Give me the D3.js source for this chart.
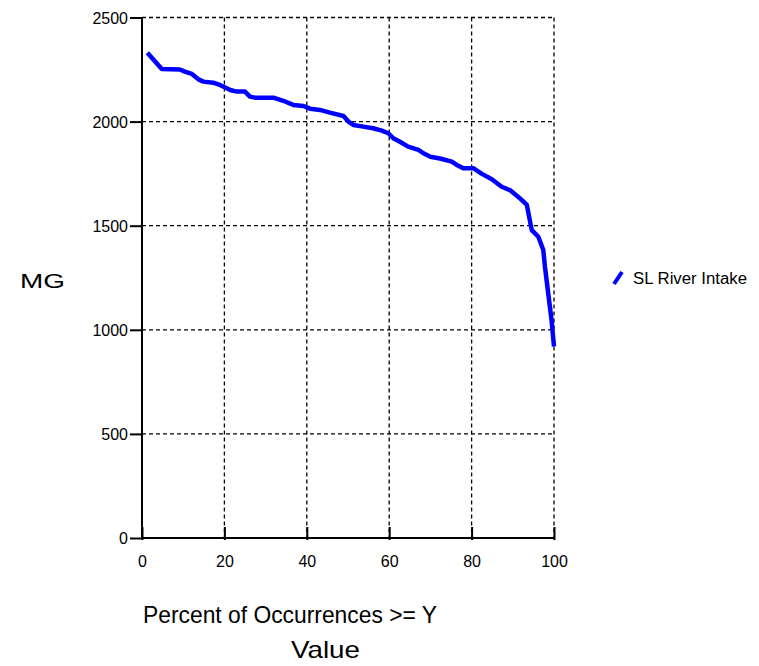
<!DOCTYPE html>
<html>
<head>
<meta charset="utf-8">
<script src="https://cdn.jsdelivr.net/npm/d3@7"></script>
<style>
  body { margin: 0; background: #fff; }
  svg { display: block; font-family: Arial, "Liberation Sans", sans-serif; }
</style>
</head>
<body>
<svg id="chart" width="759" height="666"></svg>
<script>
// ---- data ----
const seriesName = "SL River Intake";
const pct = [1.3, 4.8, 9.2, 10.4, 12.1, 13.7, 14.9, 17.3, 18.9, 20.6, 21.4, 23, 25, 26.2, 27.4, 31.9, 34.3, 36.7, 39.2, 40.8, 43.2, 45.6, 48.9, 50.1, 51.3, 53.7, 56.1, 58.2, 59.8, 61, 62.6, 64.6, 67.1, 68.3, 70, 72.3, 75.2, 76.4, 78, 80.4, 82.5, 84.9, 87.3, 89.3, 91.7, 93.4, 93.8, 94.6, 96.2, 97.4, 97.8, 98.6, 99.4, 100];
const mg = [2331, 2253, 2250, 2240, 2229, 2203, 2192, 2187, 2176, 2160, 2152, 2144, 2144, 2120, 2115, 2115, 2100, 2080, 2075, 2062, 2056, 2043, 2027, 2000, 1984, 1976, 1968, 1957, 1944, 1920, 1903, 1880, 1864, 1848, 1831, 1823, 1808, 1792, 1776, 1776, 1749, 1723, 1687, 1671, 1632, 1600, 1560, 1479, 1447, 1383, 1303, 1175, 1047, 920];
const xTicks = [0, 20, 40, 60, 80, 100];
const yTicks = [0, 500, 1000, 1500, 2000, 2500];
const xTitle1 = "Percent of Occurrences >= Y";
const xTitle2 = "Value";
const yTitle = "MG";

// ---- chart ----
const svg = d3.select("#chart");
const x = d3.scaleLinear().domain([0, 100]).range([142, 554]);
const y = d3.scaleLinear().domain([0, 2500]).range([538, 17.5]);

// grid
const grid = svg.append("g").attr("stroke", "#000").attr("stroke-width", 1.3).attr("stroke-dasharray", "4,3");
grid.selectAll("line.h").data(yTicks.filter(d => d > 0)).enter().append("line")
  .attr("x1", x(0)).attr("x2", x(100)).attr("y1", d => y(d)).attr("y2", d => y(d));
grid.selectAll("line.v").data(xTicks.filter(d => d > 0)).enter().append("line")
  .attr("class", "v")
  .attr("x1", d => x(d)).attr("x2", d => x(d)).attr("y1", y(2500)).attr("y2", y(0));

// axes
const yAxis = d3.axisLeft(y).tickValues(yTicks).tickSize(12).tickPadding(2).tickFormat(d3.format("d"));
const gy = svg.append("g").attr("transform", `translate(${x(0)},0)`).call(yAxis);
const xAxis = d3.axisBottom(x).tickValues(xTicks).tickSize(3).tickPadding(15).tickFormat(d3.format("d"));
const gx = svg.append("g").attr("transform", `translate(0,${y(0)})`).call(xAxis);
gx.selectAll(".tick line").attr("y1", -11).attr("y2", 2);
[gy, gx].forEach(g => {
  g.attr("font-size", null);
  g.select(".domain").attr("stroke", "#000").attr("stroke-width", 2);
  g.selectAll(".tick line").attr("stroke", "#000").attr("stroke-width", 2);
  g.selectAll(".tick text").attr("fill", "#000").style("font-size", "16px").style("font-family", "Arial, 'Liberation Sans', sans-serif");
});
gy.select(".domain").attr("d", `M0,${y(2500)}V${y(0)}`);
gx.select(".domain").attr("d", `M${x(0)},0H${x(100)}`);
gy.selectAll(".tick text").attr("dy", "0.35em");

// line
const line = d3.line().x((d, i) => x(pct[i])).y((d, i) => y(mg[i]));
svg.append("path").datum(mg).attr("d", line)
  .attr("fill", "none").attr("stroke", "#0000ff").attr("stroke-width", 4.5)
  .attr("stroke-linejoin", "round").attr("stroke-linecap", "butt");

// titles
svg.append("text").attr("x", 20).attr("y", 288).attr("font-size", 21)
  .attr("textLength", 45).attr("lengthAdjust", "spacingAndGlyphs").text(yTitle);
svg.append("text").attr("x", 143).attr("y", 623).attr("font-size", 24)
  .attr("textLength", 294).attr("lengthAdjust", "spacingAndGlyphs").text(xTitle1);
svg.append("text").attr("x", 291).attr("y", 658).attr("font-size", 24)
  .attr("textLength", 69).attr("lengthAdjust", "spacingAndGlyphs").text(xTitle2);

// legend
svg.append("line").attr("x1", 614).attr("y1", 284).attr("x2", 622).attr("y2", 272)
  .attr("stroke", "#0000ff").attr("stroke-width", 4);
svg.append("text").attr("x", 633).attr("y", 284).attr("font-size", 16)
  .attr("textLength", 114).attr("lengthAdjust", "spacingAndGlyphs").text(seriesName);
</script>
</body>
</html>
